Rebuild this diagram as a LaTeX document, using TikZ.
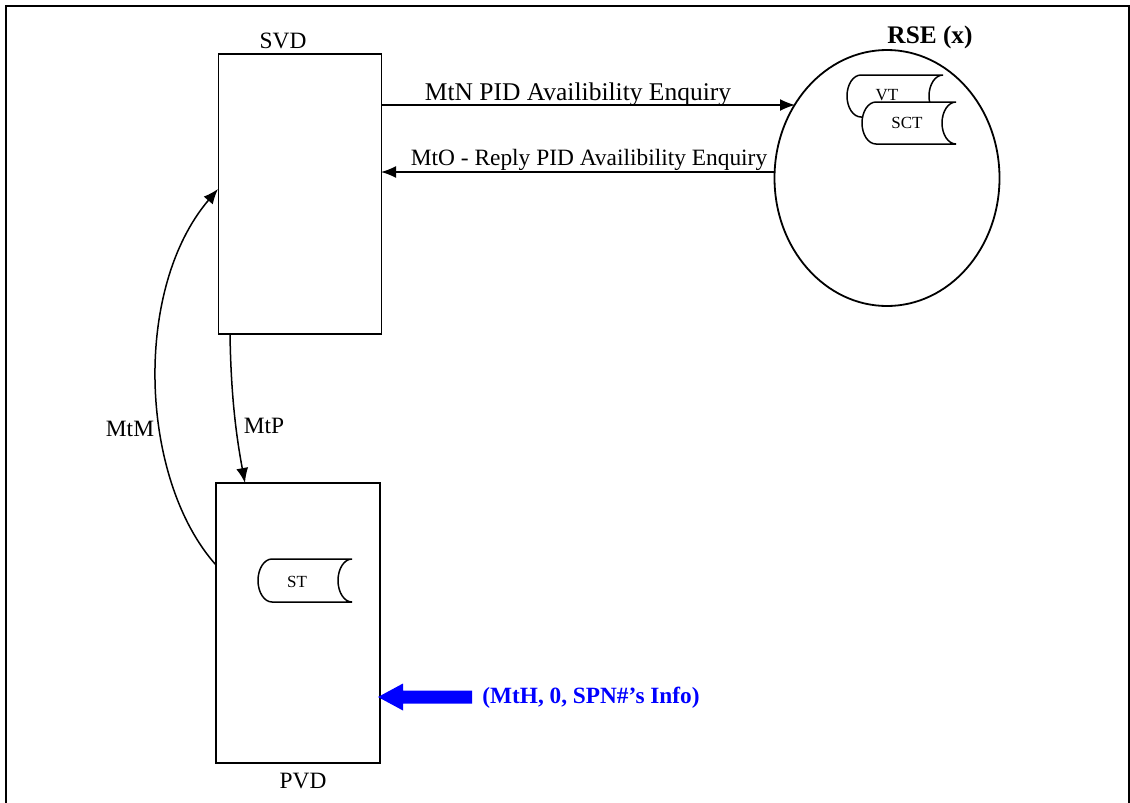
\documentclass[tikz,border=0pt]{standalone}
\usepackage{fontspec}
\setmainfont{Liberation Serif}
\usetikzlibrary{arrows.meta,shapes.geometric}
\definecolor{infoblue}{RGB}{0,0,255}
\tikzset{
  lbl/.style={anchor=base,inner sep=0pt,font=\fontsize{23.4}{28}\selectfont},
  small/.style={anchor=base,inner sep=0pt,font=\fontsize{17}{20}\selectfont},
  conn/.style={line width=1.5pt,-{Latex[length=15pt,width=12pt]}},
  boxline/.style={draw,line width=1.8pt,inner sep=0pt},
}
\newcommand{\storeshape}[5]{% name, x0, x1, top, bottom
  \draw[line width=1.5pt,fill=white] (#2+14,#4) -- (#3,#4)
    arc[start angle=270,end angle=90,x radius=14,y radius=(#5-#4)/2]
    -- (#2+14,#5)
    arc[start angle=90,end angle=270,x radius=14,y radius=(#5-#4)/2] -- cycle;
  \coordinate (#1) at ({(#2+#3)/2},{(#4+#5)/2});
}
\begin{document}
\begin{tikzpicture}[x=1pt,y=-1pt]
\useasboundingbox (0,0) rectangle (1130,803);
\clip (0,0) rectangle (1130,803);
\fill[white] (0,0) rectangle (1130,803);
\draw[line width=2pt] (6,6) rectangle (1129,812);

% boxes
\node[boxline,minimum width=163pt,minimum height=280pt] (svd) at (300,194) {};
\node[boxline,minimum width=164pt,minimum height=280pt] (pvd) at (298,623) {};
\node[lbl] (svdl) at (283,48) {SVD};
\node[lbl] (pvdl) at (303,788) {PVD};

% RSE ellipse
\node[boxline,ellipse,minimum width=225pt,minimum height=256pt] (rse) at (887,178) {};
\node[anchor=base,inner sep=0pt,font=\fontsize{25.3}{30}\bfseries\selectfont] (rsel) at (930,43) {RSE (x)};

% storage shapes
\storeshape{vt}{847}{943}{75}{117}
\node[small] (vtl) at (887,100) {VT};
\storeshape{sct}{862}{956}{102}{144}
\node[small] (sctl) at (907,128) {SCT};
\storeshape{st}{258}{352}{559}{602}
\node[small] (stl) at (297,587) {ST};

% MtN / MtO
\coordinate (mtnS) at (381,105);
\coordinate (mtnE) at (795,105);
\coordinate (mtoS) at (775,172);
\coordinate (mtoE) at (381,172);
\draw[conn] (mtnS) -- (mtnE);
\draw[conn] (mtoS) -- (mtoE);
\node[anchor=base,inner sep=0pt,font=\fontsize{25.5}{30}\selectfont] (mtnl) at (578,100) {MtN PID Availibility Enquiry};
\node[lbl] (mtol) at (589,165) {MtO - Reply PID Availibility Enquiry};

% MtP
\coordinate (mtpS) at (230,334);
\coordinate (mtpE) at (245,483);
\draw[conn] (mtpS) .. controls (231,400) and (237,440) .. (mtpE);
\node[lbl] (mtpl) at (264,433) {MtP};

% MtM
\coordinate (mtmS) at (216,565);
\coordinate (mtmE) at (218,189);
\draw[conn] (mtmS) .. controls (140,480) and (132,290) .. (mtmE);
\node[lbl] (mtml) at (130,436) {MtM};

% blue input arrow
\coordinate (inTip) at (378,697);
\fill[infoblue] (inTip) -- (403,683.5) -- (403,690.5) -- (472,690.5) -- (472,703.5) -- (403,703.5) -- (403,710.5) -- cycle;
\node[anchor=base,inner sep=0pt,text=infoblue,font=\fontsize{23.3}{28}\bfseries\selectfont] (info) at (591,703) {(MtH, 0, SPN\#’s Info)};
\end{tikzpicture}
\end{document}
